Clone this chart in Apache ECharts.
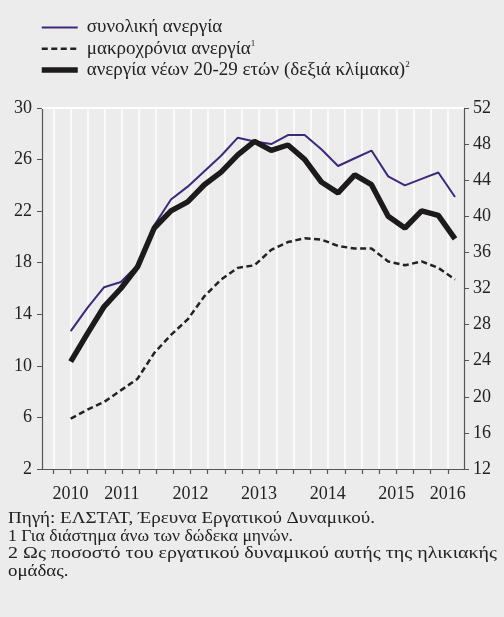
<!DOCTYPE html>
<html><head><meta charset="utf-8">
<script src="https://cdn.jsdelivr.net/npm/echarts@6/dist/echarts.min.js"></script>
<style>html,body{margin:0;padding:0;background:#ececec}#c{width:504px;height:617px}</style>
</head><body><div id="c"></div>
<script>
// Quarterly observations, 2010Q1 .. 2015Q4 (24 points)
const quarters = ['2010Q1','2010Q2','2010Q3','2010Q4','2011Q1','2011Q2','2011Q3','2011Q4',
  '2012Q1','2012Q2','2012Q3','2012Q4','2013Q1','2013Q2','2013Q3','2013Q4',
  '2014Q1','2014Q2','2014Q3','2014Q4','2015Q1','2015Q2','2015Q3','2015Q4'];
const totalUnemp    = [12.7, 14.5, 16.1, 16.5, 17.8, 20.9, 22.9, 23.9, 25.1, 26.3, 27.7, 27.4,
                       27.2, 27.9, 27.9, 26.8, 25.5, 26.1, 26.7, 24.7, 24.0, 24.5, 25.0, 23.1];
const longTermUnemp = [5.9, 6.6, 7.2, 8.1, 9.0, 11.0, 12.4, 13.6, 15.4, 16.7, 17.6, 17.8,
                       19.0, 19.6, 19.9, 19.8, 19.3, 19.1, 19.1, 18.1, 17.8, 18.1, 17.6, 16.7];
const youthUnemp    = [23.9, 27.0, 30.0, 32.0, 34.4, 38.7, 40.6, 41.6, 43.5, 44.9, 46.8, 48.3,
                       47.3, 47.9, 46.3, 43.8, 42.6, 44.6, 43.5, 40.0, 38.7, 40.6, 40.1, 37.5];

const seriesNames = ['συνολική ανεργία', 'μακροχρόνια ανεργία', 'ανεργία νέων 20-29 ετών (δεξιά κλίμακα)'];
const seriesNotes = ['', '1', '2'];

const yearLabels = ['2010', '2011', '2012', '2013', '2014', '2015', '2016'];
const yearLabelTick = [1, 4, 8, 12, 16, 20, 23];   // index of gridline carrying each year label
const gridTickCount = 24;

const leftTicks  = [2, 6, 10, 14, 18, 22, 26, 30];
const rightTicks = [12, 16, 20, 24, 28, 32, 36, 40, 44, 48, 52];

const footnotes = [
  'Πηγή: ΕΛΣΤΑΤ, Έρευνα Εργατικού Δυναμικού.',
  '1 Για διάστημα άνω των δώδεκα μηνών.',
  '2 Ως ποσοστό του εργατικού δυναμικού αυτής της ηλικιακής',
  'ομάδας.'
];

const FONT = '"Liberation Serif", "DejaVu Serif", serif';
const TXT = '#222';
const AX = '#555';
const COL_TOTAL = '#3e2878', COL_LONG = '#222', COL_YOUTH = '#1c1a1a';
const styles = [
  {color: COL_TOTAL, width: 2, type: 'solid'},
  {color: COL_LONG, width: 2.5, type: [6, 3.5]},
  {color: COL_YOUTH, width: 5.5, type: 'solid'}
];

const toXY = arr => arr.map((v, i) => [i, v]);

// footnote layout: target widths (px) of lines as in the original typesetting
const footWidths = [367, 285, 489, null];
const footFont = '16px ' + FONT;
const mctx = document.createElement('canvas').getContext('2d');
mctx.font = footFont;
const footGraphics = footnotes.map((line, i) => {
  const w = mctx.measureText(line).width;
  const sx = footWidths[i] ? footWidths[i] / w : 1.18;
  return {type: 'text', x: 8, y: 511 + i * 17.5, scaleX: sx, originX: 0,
    style: {text: line, font: footFont, fill: TXT}};
});

const chart = echarts.init(document.getElementById('c'), null, {renderer: 'canvas'});
chart.setOption({
  backgroundColor: '#ececec',
  animation: false,
  legend: {
    orient: 'vertical', left: 39, top: 18, padding: 0,
    itemWidth: 36, itemHeight: 4, itemGap: 1.8,
    itemStyle: {opacity: 0},
    data: seriesNames.map((n, i) => ({name: n, lineStyle: {color: styles[i].color, width: styles[i].width, type: styles[i].type}})),
    textStyle: {
      fontFamily: FONT, fontSize: 19, color: TXT,
      rich: {
        t: {fontFamily: FONT, fontSize: 19, color: TXT, lineHeight: 20, padding: [0, 0, 0, 4]},
        s: {fontFamily: FONT, fontSize: 9, color: TXT, verticalAlign: 'top', lineHeight: 20, padding: [0, 0, 6, 0]}
      }
    },
    formatter: name => {
      const n = seriesNotes[seriesNames.indexOf(name)];
      return '{t|' + name + '}' + (n ? '{s|' + n + '}' : '');
    }
  },
  grid: [
    {left: 42, right: 40, top: 108, bottom: 148},
    {left: 53.3, right: 56.25, top: 108, bottom: 148}
  ],
  xAxis: [
    {gridIndex: 0, type: 'value', position: 'bottom', min: -1.7175, max: 23.537,
     axisLine: {show: true, onZero: false, lineStyle: {color: AX, width: 1.2}},
     axisTick: {show: false}, axisLabel: {show: false}, splitLine: {show: false}},
    {gridIndex: 1, type: 'value', position: 'bottom', min: 0, max: gridTickCount - 1, interval: 1,
     axisLine: {show: false, onZero: false},
     axisTick: {show: true, length: 5, lineStyle: {color: AX, width: 1.2}},
     axisLabel: {show: true, margin: 16, fontFamily: FONT, fontSize: 18, color: TXT,
       formatter: v => { const k = yearLabelTick.indexOf(Math.round(v)); return k >= 0 ? yearLabels[k] : ''; }},
     splitLine: {show: true, lineStyle: {color: '#ffffff', width: 1.5}}},
    {gridIndex: 0, type: 'value', position: 'top', min: 0, max: 1,
     axisLine: {show: true, onZero: false, lineStyle: {color: '#ffffff', width: 2}},
     axisTick: {show: false}, axisLabel: {show: false}, splitLine: {show: false}}
  ],
  yAxis: [
    {gridIndex: 0, type: 'value', position: 'left', min: leftTicks[0], max: leftTicks[leftTicks.length - 1],
     axisLine: {show: true, onZero: false, lineStyle: {color: AX, width: 1.2}},
     axisTick: {show: true, length: 5, customValues: leftTicks, lineStyle: {color: AX}},
     axisLabel: {margin: 10, customValues: leftTicks, fontFamily: FONT, fontSize: 18, color: TXT},
     splitLine: {show: false}},
    {gridIndex: 0, type: 'value', position: 'right', min: rightTicks[0], max: rightTicks[rightTicks.length - 1],
     axisLine: {show: true, onZero: false, lineStyle: {color: AX, width: 1.2}},
     axisTick: {show: true, length: 5, customValues: rightTicks, lineStyle: {color: AX}},
     axisLabel: {margin: 9, customValues: rightTicks, fontFamily: FONT, fontSize: 18, color: TXT},
     splitLine: {show: false}},
    {gridIndex: 1, type: 'value', min: 0, max: 1, show: false}
  ],
  series: [
    {name: seriesNames[0], type: 'line', xAxisIndex: 0, yAxisIndex: 0, data: toXY(totalUnemp),
     symbol: 'none', color: COL_TOTAL, lineStyle: styles[0], z: 3},
    {name: seriesNames[1], type: 'line', xAxisIndex: 0, yAxisIndex: 0, data: toXY(longTermUnemp),
     symbol: 'none', color: COL_LONG, lineStyle: styles[1], z: 3},
    {name: seriesNames[2], type: 'line', xAxisIndex: 0, yAxisIndex: 1, data: toXY(youthUnemp),
     symbol: 'none', color: COL_YOUTH, lineStyle: styles[2], z: 4}
  ],
  graphic: footGraphics
});
</script></body></html>
